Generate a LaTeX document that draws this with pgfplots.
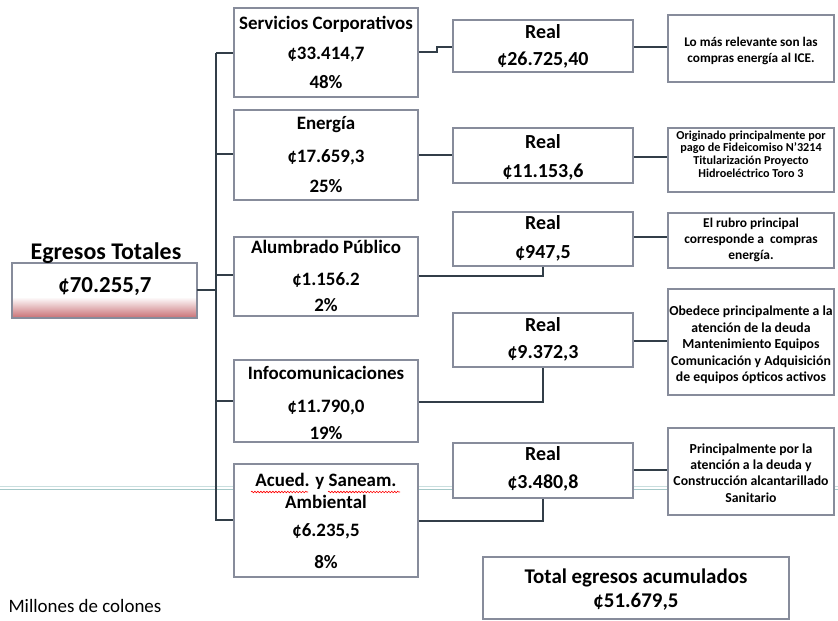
\documentclass[border=0pt]{standalone}
\usepackage{pgfplots}
\pgfplotsset{compat=1.18}
\usepackage{fontspec}
\setmainfont{Carlito}
\usetikzlibrary{decorations.pathmorphing}
\definecolor{boxc}{RGB}{135,140,155}
\definecolor{linec}{RGB}{50,62,72}
\definecolor{scanc}{RGB}{165,200,200}
\definecolor{pinkc}{RGB}{200,110,115}
\newcommand{\fs}[1]{\fontsize{#1}{#1}\selectfont}
\begin{document}
\begin{tikzpicture}
\begin{axis}[
  scale only axis, width=838bp, height=621bp,
  xmin=0, xmax=838, ymin=0, ymax=621, y dir=reverse,
  hide axis, clip=false,
]
% scan artefact line
\addplot[scanc, line width=1pt] coordinates {(0,489) (838,489)};
\addplot[scanc!60, line width=0.6pt] coordinates {(0,486) (838,486)};
% Egresos box with gradient at the bottom
\addplot[draw=none, fill=white] coordinates {(12,263) (197,263) (197,318) (12,318)} -- cycle;
\addplot[draw=none, top color=white, bottom color=pinkc] coordinates {(12,297) (197,297) (197,318) (12,318)} -- cycle;
\addplot[draw=boxc, line width=1.2pt] coordinates {(12,263) (197,263) (197,318) (12,318)} -- cycle;
% connectors
\addplot[linec, line width=1.6pt] coordinates {(197,290) (216,290)};
\addplot[linec, line width=1.6pt] coordinates {(216,53) (216,521)};
\addplot[linec, line width=1.6pt] coordinates {(216,53) (234,53)};
\addplot[linec, line width=1.6pt] coordinates {(216,154) (234,154)};
\addplot[linec, line width=1.6pt] coordinates {(216,275) (234,275)};
\addplot[linec, line width=1.6pt] coordinates {(216,401) (234,401)};
\addplot[linec, line width=1.6pt] coordinates {(216,520) (234,520)};
\addplot[linec, line width=1.6pt] coordinates {(418,52) (437,52) (437,47) (453,47)};
\addplot[linec, line width=1.6pt] coordinates {(418,155) (453,155)};
\addplot[linec, line width=1.6pt] coordinates {(418,276) (543,276) (543,266)};
\addplot[linec, line width=1.6pt] coordinates {(418,402) (543,402) (543,367)};
\addplot[linec, line width=1.6pt] coordinates {(418,521) (543,521) (543,498)};
\addplot[linec, line width=1.6pt] coordinates {(633,47) (668,47)};
\addplot[linec, line width=1.6pt] coordinates {(633,157) (668,157)};
\addplot[linec, line width=1.6pt] coordinates {(633,237) (668,237)};
\addplot[linec, line width=1.6pt] coordinates {(633,341) (668,341)};
\addplot[linec, line width=1.6pt] coordinates {(633,470) (668,470)};
% level boxes
\addplot[draw=boxc, line width=1.2pt, fill=white] coordinates {(234,8) (418,8) (418,97) (234,97)} -- cycle;
\addplot[draw=boxc, line width=1.2pt, fill=white] coordinates {(234,110) (418,110) (418,200) (234,200)} -- cycle;
\addplot[draw=boxc, line width=1.2pt, fill=white] coordinates {(234,237) (418,237) (418,316) (234,316)} -- cycle;
\addplot[draw=boxc, line width=1.2pt, fill=white] coordinates {(234,360) (418,360) (418,442) (234,442)} -- cycle;
\addplot[draw=boxc, line width=1.2pt, fill=white] coordinates {(234,464) (418,464) (418,577) (234,577)} -- cycle;
% real boxes
\addplot[draw=boxc, line width=1.2pt, fill=white] coordinates {(453,20) (633,20) (633,72) (453,72)} -- cycle;
\addplot[draw=boxc, line width=1.2pt, fill=white] coordinates {(453,128) (633,128) (633,183) (453,183)} -- cycle;
\addplot[draw=boxc, line width=1.2pt, fill=white] coordinates {(453,212) (633,212) (633,266) (453,266)} -- cycle;
\addplot[draw=boxc, line width=1.2pt, fill=white] coordinates {(453,313) (633,313) (633,367) (453,367)} -- cycle;
\addplot[draw=boxc, line width=1.2pt, fill=white] coordinates {(453,443) (633,443) (633,498) (453,498)} -- cycle;
% note boxes
\addplot[draw=boxc, line width=1.2pt, fill=white] coordinates {(668,15) (834,15) (834,82) (668,82)} -- cycle;
\addplot[draw=boxc, line width=1.2pt, fill=white] coordinates {(668,128) (834,128) (834,192) (668,192)} -- cycle;
\addplot[draw=boxc, line width=1.2pt, fill=white] coordinates {(668,213) (834,213) (834,268) (668,268)} -- cycle;
\addplot[draw=boxc, line width=1.2pt, fill=white] coordinates {(668,289) (834,289) (834,395) (668,395)} -- cycle;
\addplot[draw=boxc, line width=1.2pt, fill=white] coordinates {(668,428) (834,428) (834,515) (668,515)} -- cycle;
% total box
\addplot[draw=boxc, line width=1.2pt, fill=white] coordinates {(483,557) (789,557) (789,619) (483,619)} -- cycle;

% texts
\node[font=\fs{24}\bfseries] at (axis cs:106,253) {Egresos Totales};
\node[font=\fs{23}\bfseries] at (axis cs:105,287) {¢70.255,7};

\node[font=\fs{19}\bfseries] at (axis cs:326,24) {Servicios Corporativos};
\node[font=\fs{19}\bfseries] at (axis cs:326,55) {¢33.414,7};
\node[font=\fs{19}\bfseries] at (axis cs:326,82) {48\%};
\node[font=\fs{19}\bfseries] at (axis cs:326,125) {Energía};
\node[font=\fs{19}\bfseries] at (axis cs:326,157) {¢17.659,3};
\node[font=\fs{19}\bfseries] at (axis cs:326,186) {25\%};
\node[font=\fs{19}\bfseries] at (axis cs:326,247) {Alumbrado Público};
\node[font=\fs{19}\bfseries] at (axis cs:326,280) {¢1.156.2};
\node[font=\fs{19}\bfseries] at (axis cs:326,305) {2\%};
\node[font=\fs{19}\bfseries] at (axis cs:326,373) {Infocomunicaciones};
\node[font=\fs{19}\bfseries] at (axis cs:326,408) {¢11.790,0};
\node[font=\fs{19}\bfseries] at (axis cs:326,433) {19\%};
\node[font=\fs{19}\bfseries] at (axis cs:326,481) {Acued. y Saneam.};
\node[font=\fs{19}\bfseries] at (axis cs:326,502) {Ambiental};
\node[font=\fs{19}\bfseries] at (axis cs:326,531) {¢6.235,5};
\node[font=\fs{19}\bfseries] at (axis cs:326,562) {8\%};
\draw[red, line width=0.6pt, decorate, decoration={snake, amplitude=0.8pt, segment length=3pt}] (axis cs:251,492) -- (axis cs:308,492);
\draw[red, line width=0.6pt, decorate, decoration={snake, amplitude=0.8pt, segment length=3pt}] (axis cs:328,492) -- (axis cs:400,492);

\node[font=\fs{20}\bfseries] at (axis cs:543,32) {Real};
\node[font=\fs{20}\bfseries] at (axis cs:543,60) {¢26.725,40};
\node[font=\fs{20}\bfseries] at (axis cs:543,142) {Real};
\node[font=\fs{20}\bfseries] at (axis cs:543,172) {¢11.153,6};
\node[font=\fs{20}\bfseries] at (axis cs:543,223) {Real};
\node[font=\fs{20}\bfseries] at (axis cs:543,253) {¢947,5};
\node[font=\fs{20}\bfseries] at (axis cs:543,325) {Real};
\node[font=\fs{20}\bfseries] at (axis cs:543,353) {¢9.372,3};
\node[font=\fs{20}\bfseries] at (axis cs:543,454) {Real};
\node[font=\fs{20}\bfseries] at (axis cs:543,483) {¢3.480,8};

\node[font=\fontsize{13.3}{17}\selectfont\bfseries, align=center] at (axis cs:751,51) {Lo más relevante son las\\compras energía al ICE.};
\node[font=\fontsize{12.2}{12.6}\selectfont\bfseries, align=center] at (axis cs:751,154) {Originado principalmente por\\pago de Fideicomiso N'3214\\Titularización Proyecto\\Hidroeléctrico Toro 3};
\node[font=\fontsize{13.5}{16}\selectfont\bfseries, align=center] at (axis cs:751,240) {El rubro principal\\corresponde a~ compras\\energía.};
\node[font=\fontsize{13.8}{16.5}\selectfont\bfseries, align=center] at (axis cs:751,345) {Obedece principalmente a la\\atención de la deuda\\Mantenimiento Equipos\\Comunicación y Adquisición\\de equipos ópticos activos};
\node[font=\fontsize{13.8}{16.5}\selectfont\bfseries, align=center] at (axis cs:751,473) {Principalmente por la\\atención a la deuda y\\Construcción alcantarillado\\Sanitario};

\node[font=\fs{21}\bfseries] at (axis cs:636,578) {Total egresos acumulados};
\node[font=\fs{21}\bfseries] at (axis cs:636,602) {¢51.679,5};
\node[font=\fs{19}, anchor=west] at (axis cs:5,606) {Millones de colones};
\end{axis}
\pgfresetboundingbox
\path (current axis.south west) rectangle (current axis.north east);
\end{tikzpicture}
\end{document}
